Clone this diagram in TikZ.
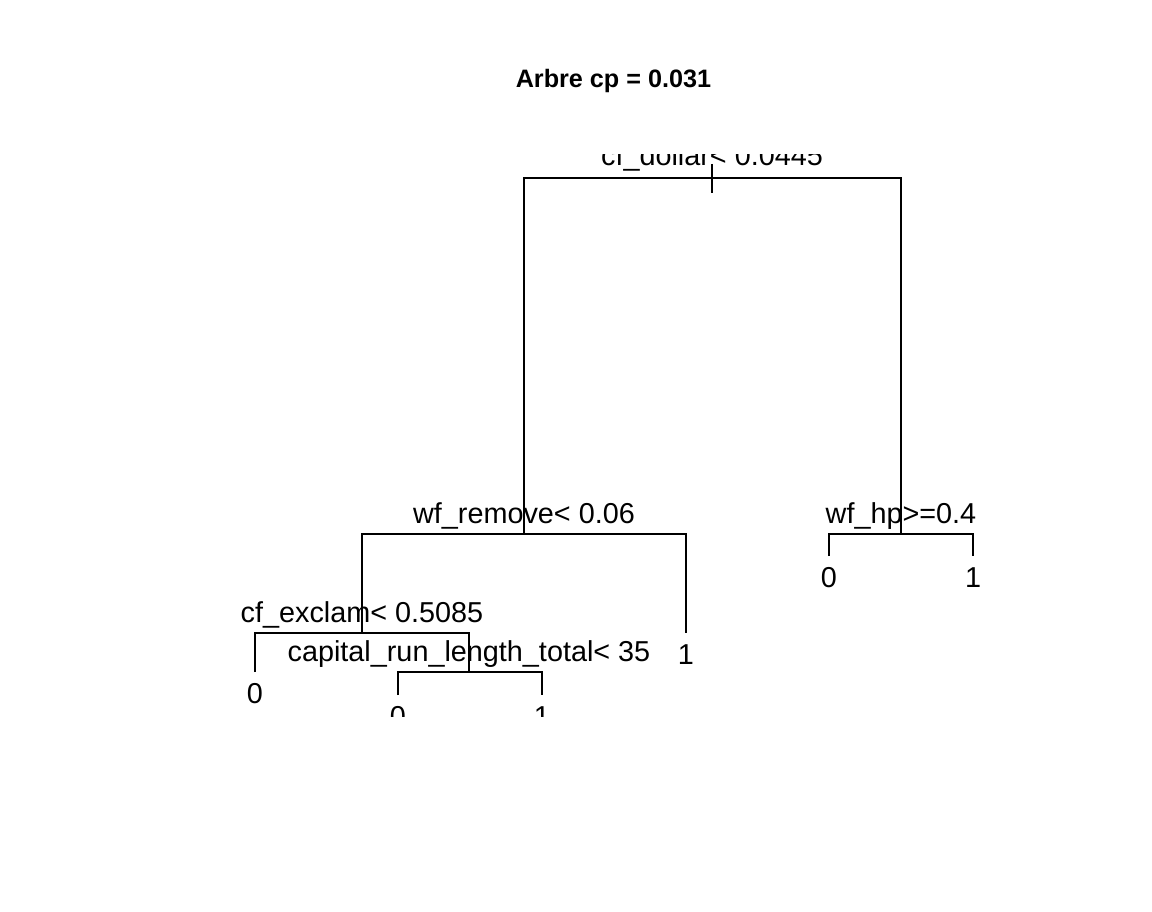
\documentclass[tikz,border=0pt]{standalone}
\usepackage{fontspec}
\setmainfont{Liberation Sans}
\begin{document}
\begin{tikzpicture}[x=1pt,y=-1pt,
  branch/.style={line width=2pt, line join=miter},
  lbl/.style={anchor=base, inner sep=0pt, font=\fontsize{28.8}{34}\selectfont},
  ttl/.style={anchor=base, inner sep=0pt, font=\fontsize{25.2}{30}\selectfont\bfseries}]
\useasboundingbox[fill=white] (0,0) rectangle (1152,912);
\node[ttl] (title) at (613.5,88) {Arbre cp = 0.031};
% split points
\coordinate (root) at (712,178);
\coordinate (rem) at (524,534);
\coordinate (hp) at (901,534);
\coordinate (excl) at (362,633);
\coordinate (cap) at (469,672);
% leaf tops
\coordinate (hpL) at (829,556);
\coordinate (hpR) at (973,556);
\coordinate (remR) at (686,633);
\coordinate (exL) at (255,672);
\coordinate (capL) at (398,695);
\coordinate (capR) at (542,695);
% branches
\draw[branch] (rem) |- (root) -| (hp);
\draw[branch] (excl) |- (rem) -| (remR);
\draw[branch] (hpL) |- (hp) -| (hpR);
\draw[branch] (exL) |- (excl) -| (cap);
\draw[branch] (capL) |- (cap) -| (capR);
\draw[line width=2pt] (712,164) -- (712,193);
\begin{scope}
\clip (0,155) rectangle (1152,716);
\node[lbl] (lroot) at (712,166) {cf\_dollar< 0.0445};
\node[lbl] (lrem) at (524,523) {wf\_remove< 0.06};
\node[lbl] (lhp) at (901,523) {wf\_hp>=0.4};
\node[lbl] (lexcl) at (362,622) {cf\_exclam< 0.5085};
\node[lbl] (lcap) at (469,661) {capital\_run\_length\_total< 35};
\node[lbl] (leaf1) at (829,587.5) {0};
\node[lbl] (leaf2) at (973,587.5) {1};
\node[lbl] (leaf3) at (686,664) {1};
\node[lbl] (leaf4) at (255,703) {0};
\node[lbl] (leaf5) at (398,726) {0};
\node[lbl] (leaf6) at (542,726) {1};
\end{scope}
\end{tikzpicture}
\end{document}
